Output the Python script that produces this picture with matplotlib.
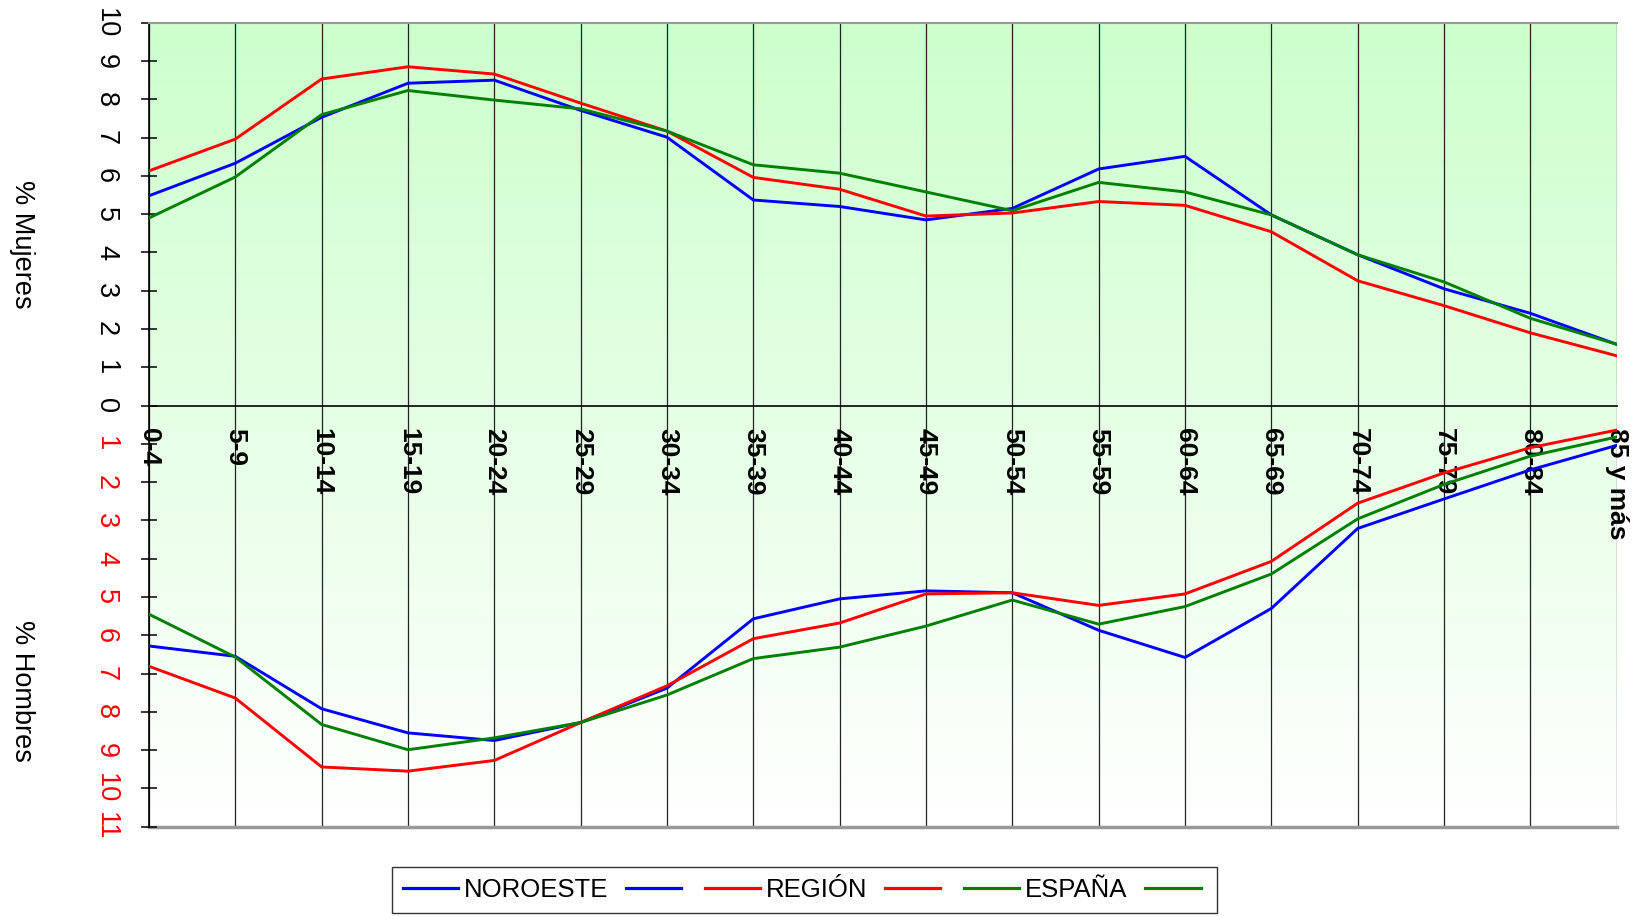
import numpy as np
import matplotlib
matplotlib.use("Agg")
import matplotlib.pyplot as plt
from matplotlib.lines import Line2D
from matplotlib.colors import LinearSegmentedColormap

plt.rcParams['font.family'] = ['Liberation Sans', 'DejaVu Sans']

# Age groups
ages = ["0-4", "5-9", "10-14", "15-19", "20-24", "25-29", "30-34", "35-39",
        "40-44", "45-49", "50-54", "55-59", "60-64", "65-69", "70-74",
        "75-79", "80-84", "85 y más"]

# % women per age group
mujeres_noroeste = [5.48, 6.33, 7.53, 8.42, 8.50, 7.71, 7.01, 5.37, 5.20, 4.85,
                    5.15, 6.18, 6.51, 4.98, 3.94, 3.05, 2.41, 1.60]
mujeres_region = [6.13, 6.96, 8.53, 8.85, 8.66, 7.90, 7.17, 5.96, 5.65, 4.95,
                  5.03, 5.33, 5.23, 4.54, 3.26, 2.61, 1.90, 1.30]
mujeres_espana = [4.90, 5.97, 7.60, 8.23, 7.98, 7.75, 7.17, 6.29, 6.07, 5.58,
                  5.09, 5.83, 5.58, 4.98, 3.94, 3.23, 2.28, 1.60]

# % men per age group (drawn downwards)
hombres_noroeste = [6.28, 6.55, 7.92, 8.55, 8.75, 8.28, 7.38, 5.57, 5.05, 4.84,
                    4.89, 5.87, 6.58, 5.30, 3.21, 2.44, 1.68, 1.04]
hombres_region = [6.81, 7.64, 9.44, 9.55, 9.27, 8.28, 7.32, 6.09, 5.68, 4.92,
                  4.89, 5.22, 4.92, 4.07, 2.55, 1.76, 1.10, 0.64]
hombres_espana = [5.45, 6.57, 8.33, 8.99, 8.68, 8.28, 7.56, 6.61, 6.31, 5.76,
                  5.08, 5.71, 5.25, 4.40, 2.96, 2.06, 1.32, 0.82]

fig = plt.figure(figsize=(16.35, 9.17), dpi=100)
ax = fig.add_axes([0.0911, 0.0985, 0.8977, 0.8767])

x = np.arange(len(ages))
ymin, ymax = -11, 10

# gradient background: light green at top fading to white at the bottom
cmap = LinearSegmentedColormap.from_list("bg", ["#ccffcc", "#ffffff"])
grad = np.linspace(0, 1, 256).reshape(-1, 1)
ax.imshow(grad, cmap=cmap, aspect="auto", extent=[0, len(ages) - 1, ymin, ymax],
          origin="upper", zorder=0)

lw = 2.1
colors = {"noroeste": "#0000ff", "region": "#ff0000", "espana": "#008000"}
ax.plot(x, mujeres_noroeste, color=colors["noroeste"], lw=lw, zorder=3)
ax.plot(x, -np.array(hombres_noroeste), color=colors["noroeste"], lw=lw, zorder=3)
ax.plot(x, mujeres_region, color=colors["region"], lw=lw, zorder=3)
ax.plot(x, -np.array(hombres_region), color=colors["region"], lw=lw, zorder=3)
ax.plot(x, mujeres_espana, color=colors["espana"], lw=lw, zorder=3)
ax.plot(x, -np.array(hombres_espana), color=colors["espana"], lw=lw, zorder=3)

ax.set_xlim(0, len(ages) - 1)
ax.set_ylim(ymin, ymax)

# vertical grid lines at every age group
for xi in x:
    ax.axvline(xi, color="#222222", lw=0.9, zorder=1)

# spines: x axis sits at zero
ax.spines["bottom"].set_position(("data", 0))
ax.spines["bottom"].set_color("black")
ax.spines["bottom"].set_linewidth(1.2)
ax.spines["top"].set_color("#999999")
ax.spines["top"].set_linewidth(1.5)
ax.spines["right"].set_visible(False)
ax.spines["left"].set_color("black")
ax.spines["left"].set_linewidth(1.2)
ax.axhline(ymin, color="#999999", lw=2.5, zorder=1, clip_on=False)

# x tick labels
ax.set_xticks(x)
ax.set_xticklabels(ages, rotation=-90, fontsize=19, fontweight="bold",
                   ha="center", va="top")
ax.tick_params(axis="x", length=0, pad=16)

# y ticks: women above (black), men below (red)
yticks = list(range(ymin, ymax + 1))
ax.set_yticks(yticks)
ax.set_yticklabels([str(abs(t)) for t in yticks], rotation=-90, fontsize=19.5,
                   va="center")
for t, lab in zip(yticks, ax.get_yticklabels()):
    lab.set_color("red" if t < 0 else "black")
ax.tick_params(axis="y", direction="inout", length=11, width=1.1, pad=16)

fig.text(0.0135, 0.734, "% Mujeres", rotation=-90, fontsize=19.5,
         ha="center", va="center")
fig.text(0.0135, 0.2465, "% Hombres", rotation=-90, fontsize=19.5,
         ha="center", va="center")

# legend
handles = [Line2D([], [], color=colors["noroeste"], lw=2.3),
           Line2D([], [], color=colors["noroeste"], lw=2.3),
           Line2D([], [], color=colors["region"], lw=2.3),
           Line2D([], [], color=colors["region"], lw=2.3),
           Line2D([], [], color=colors["espana"], lw=2.3),
           Line2D([], [], color=colors["espana"], lw=2.3)]
labels = ["NOROESTE", "", "REGIÓN", "", "ESPAÑA", ""]
leg = fig.legend(handles, labels, loc="center", bbox_to_anchor=(0.492, 0.0294),
                 ncol=6, fontsize=18.5, frameon=True, fancybox=False,
                 handlelength=2.15, handletextpad=0.22, columnspacing=0.7,
                 borderpad=0.42)
leg.get_frame().set_edgecolor("black")
leg.get_frame().set_linewidth(1.0)

fig.savefig("out.png", dpi=100)
